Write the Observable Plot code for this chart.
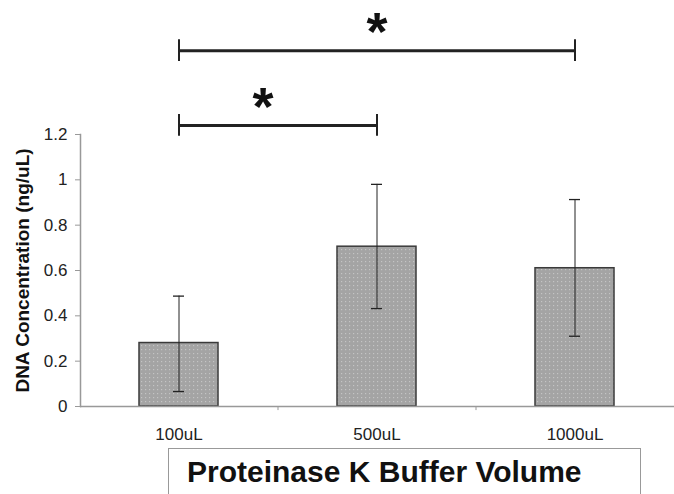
<!DOCTYPE html>
<html>
<head>
<meta charset="utf-8">
<script src="https://cdn.jsdelivr.net/npm/d3@7"></script>
<script src="https://cdn.jsdelivr.net/npm/@observablehq/plot@0.6"></script>
<style>
  html, body { margin: 0; padding: 0; background: #fff; }
  #wrap { position: relative; width: 674px; height: 494px; overflow: hidden; font-family: "Liberation Sans", Arial, sans-serif; }
  #xtitle { position: absolute; left: 168px; top: 448px; width: 473px; height: 60px; border: 1.5px solid #999; box-sizing: border-box; }
  #xtitle span { position: absolute; left: 18px; top: 8px; font-size: 30px; line-height: 1; font-weight: bold; color: #111; white-space: nowrap; }
</style>
</head>
<body>
<div id="wrap">
  <div id="chart"></div>
  <div id="xtitle"><span>Proteinase K Buffer Volume</span></div>
</div>
<script>
const categories = ["100uL", "500uL", "1000uL"];
const meanValues = [0.28, 0.705, 0.61];
const errorLow = [0.066, 0.432, 0.31];
const errorHigh = [0.487, 0.98, 0.913];
const yTicks = [0, 0.2, 0.4, 0.6, 0.8, 1, 1.2];
const yLabel = "DNA Concentration (ng/uL)";
const sigFrom = ["100uL", "100uL"];
const sigTo = ["500uL", "1000uL"];
const sigLevel = [1.24, 1.57];
const sigMark = ["*", "*"];

const bars = categories.map((c, i) => ({cat: c, mean: meanValues[i], lo: errorLow[i], hi: errorHigh[i]}));
const sigs = sigFrom.map((f, i) => ({from: f, to: sigTo[i], level: sigLevel[i], mark: sigMark[i]}));
const capEnds = sigs.flatMap(s => [{cat: s.from, level: s.level}, {cat: s.to, level: s.level}]);
const midCat = s => categories[(categories.indexOf(s.from) + categories.indexOf(s.to)) / 2];

const chart = Plot.plot({
  width: 674,
  height: 446,
  marginLeft: 80,
  marginRight: 0,
  marginTop: 134,
  marginBottom: 40,
  style: {fontFamily: "'Liberation Sans', Arial, sans-serif", background: "#fff", overflow: "visible"},
  x: {domain: categories, paddingInner: 0.6, paddingOuter: 0.3, label: null},
  y: {domain: [0, 1.2], label: null},
  marks: [
    Plot.barY(bars, {x: "cat", y: "mean", fill: "url(#dotpat)", stroke: "#3a3a3a", strokeWidth: 1.5}),
    Plot.ruleX(bars, {x: "cat", y1: "lo", y2: "hi", stroke: "#222", strokeWidth: 1}),
    Plot.tickY(bars, {x: "cat", y: "lo", stroke: "#222", strokeWidth: 1.3, insetLeft: 34, insetRight: 34}),
    Plot.tickY(bars, {x: "cat", y: "hi", stroke: "#222", strokeWidth: 1.3, insetLeft: 34, insetRight: 34}),
    Plot.ruleY([0], {stroke: "#999", strokeWidth: 1.5}),
    Plot.ruleX(categories.slice(0, -1), {x: d => d, y1: 0, y2: -0.018, dx: 99, stroke: "#999", strokeWidth: 1}),
    Plot.frame({anchor: "left", stroke: "#999", strokeWidth: 1.5}),
    Plot.axisY({ticks: yTicks, tickFormat: d => String(d), tickSize: 5, tickPadding: 8, fontSize: 17, stroke: "#999", color: "#222"}),
    Plot.axisX({tickSize: 0, tickPadding: 21, fontSize: 17, color: "#222"}),
    Plot.text([yLabel], {text: d => d, frameAnchor: "left", textAnchor: "middle", rotate: -90, dx: -58, fontSize: 19, fontWeight: "bold", fill: "#111"}),
    Plot.link(sigs, {x1: "from", x2: "to", y1: "level", y2: "level", stroke: "#222", strokeWidth: 3, clip: false}),
    Plot.ruleX(capEnds, {x: "cat", y1: d => d.level - 0.048, y2: d => d.level + 0.048, stroke: "#222", strokeWidth: 2}),
    Plot.text(sigs.filter(s => midCat(s) === undefined), {x: "from", y: d => d.level + 0.11, text: "mark", dx: 84, fontSize: 54, fontWeight: "bold", fill: "#111", lineAnchor: "top", dy: -14}),
    Plot.text(sigs.filter(s => midCat(s) !== undefined), {x: midCat, y: d => d.level + 0.11, text: "mark", fontSize: 54, fontWeight: "bold", fill: "#111", lineAnchor: "top", dy: -14})
  ]
});

const ns = "http://www.w3.org/2000/svg";
const defs = document.createElementNS(ns, "defs");
const pat = document.createElementNS(ns, "pattern");
pat.setAttribute("id", "dotpat");
pat.setAttribute("width", "4");
pat.setAttribute("height", "4");
pat.setAttribute("patternUnits", "userSpaceOnUse");
const bg = document.createElementNS(ns, "rect");
bg.setAttribute("width", "4"); bg.setAttribute("height", "4"); bg.setAttribute("fill", "#a4a4a4");
const dot = document.createElementNS(ns, "rect");
dot.setAttribute("x", "1"); dot.setAttribute("y", "1"); dot.setAttribute("width", "1.2"); dot.setAttribute("height", "1.2"); dot.setAttribute("fill", "#c4c4c4");
pat.appendChild(bg); pat.appendChild(dot);
defs.appendChild(pat);
chart.insertBefore(defs, chart.firstChild);
document.getElementById("chart").appendChild(chart);
</script>
</body>
</html>
